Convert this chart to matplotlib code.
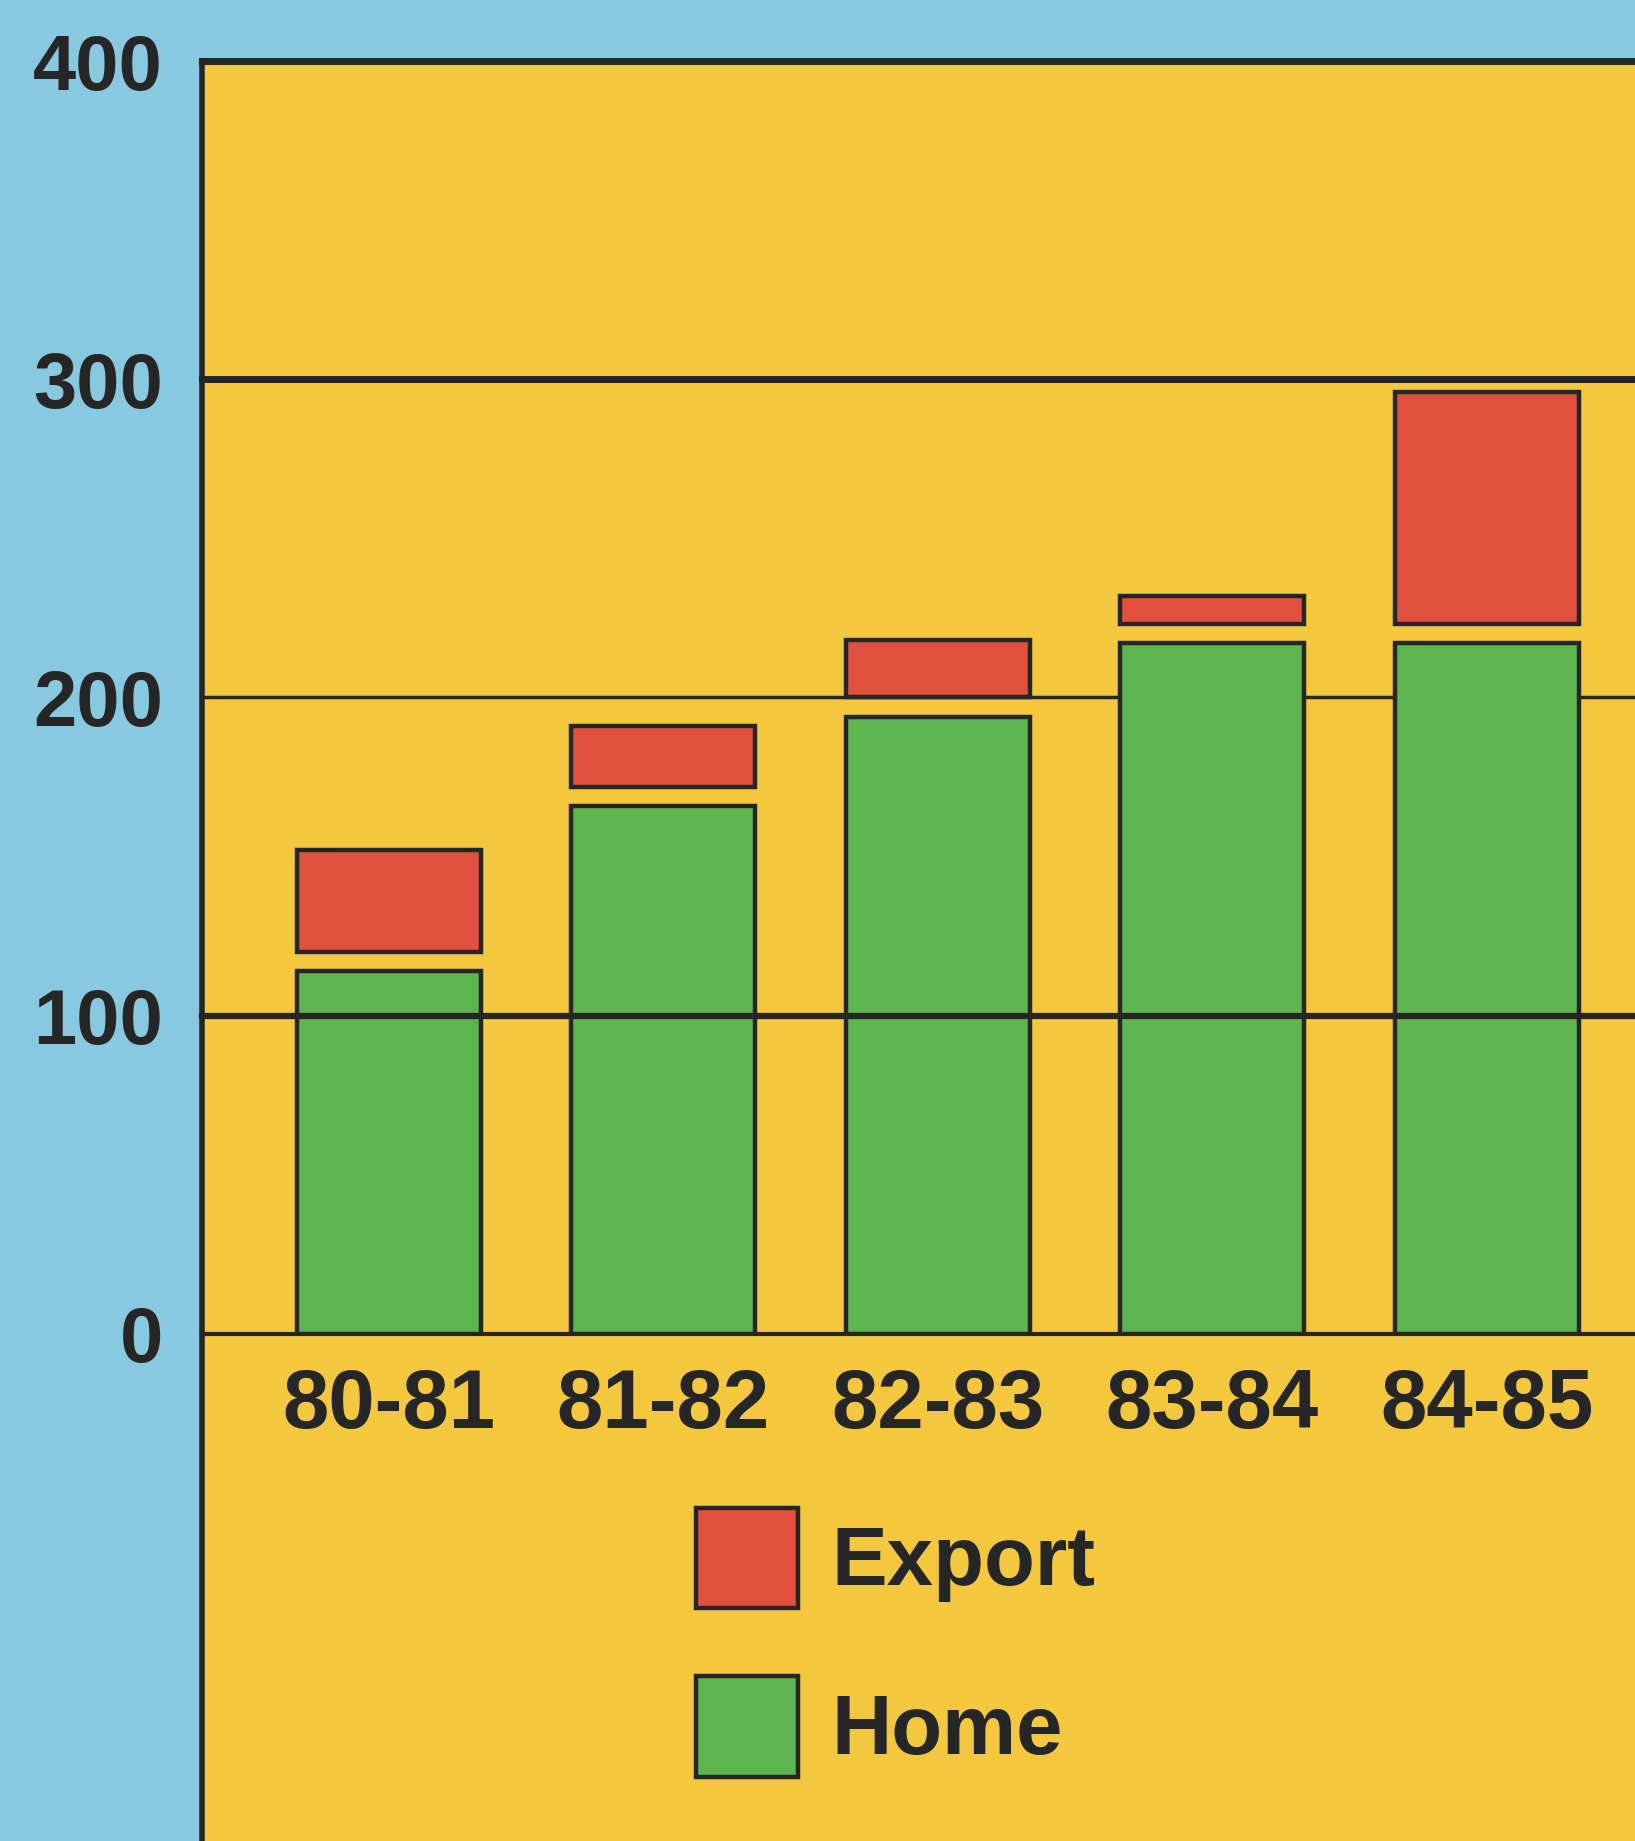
import matplotlib
matplotlib.use("Agg")
import matplotlib.pyplot as plt
from matplotlib.patches import Rectangle
from matplotlib.lines import Line2D

# data
years = ["80-81", "81-82", "82-83", "83-84", "84-85"]
home = [114, 166, 194, 217, 217]
export = [32, 19, 18, 9, 73]
y_ticks = [0, 100, 200, 300, 400]

# colours
blue = "#88c9e0"
yellow = "#f4c83e"
red = "#e2513f"
green = "#5eb44e"
ink = "#262626"

plt.rcParams["font.family"] = ["Liberation Sans", "DejaVu Sans"]
plt.rcParams["font.weight"] = "bold"

fig = plt.figure(figsize=(16.35, 18.41), dpi=100, facecolor=blue)

# yellow panel behind the chart and legend
x0 = 172 / 1393
y_top = 1 - 52 / 1568
y_bot = 1 - 1136 / 1568
fig.patches.append(Rectangle((x0, 0), 1 - x0, y_top, transform=fig.transFigure,
                             facecolor=yellow, edgecolor="none", zorder=0))
fig.lines.append(Line2D([x0, x0], [0, y_top], transform=fig.transFigure,
                        color=ink, lw=4, zorder=5))

ax = fig.add_axes([x0, y_bot, 1 - x0, y_top - y_bot])
ax.set_zorder(2)
ax.patch.set_alpha(0)
for s in ax.spines.values():
    s.set_visible(False)

gap = 6
pos = list(range(len(years)))
b_home = ax.bar(pos, home, width=0.67, color=green, edgecolor=ink, lw=3.2,
                zorder=3, label="Home")
b_exp = ax.bar(pos, export, width=0.67, bottom=[h + gap for h in home],
               color=red, edgecolor=ink, lw=3.2, zorder=3, label="Export")

# horizontal rules
widths = {0: 3, 100: 4.5, 200: 2.5, 300: 5, 400: 5}
for v in y_ticks:
    ax.axhline(v, color=ink, lw=widths[v], clip_on=False,
               zorder=4 if v == 100 else 2)

ax.set_xlim(-0.68, 4.54)
ax.set_ylim(0, 400)
ax.set_yticks(y_ticks)
ax.set_xticks(pos)
ax.set_xticklabels(years)
ax.tick_params(axis="y", length=0, pad=28, labelsize=56, labelcolor=ink)
ax.tick_params(axis="x", length=0, pad=24, labelsize=60, labelcolor=ink)

leg = ax.legend(handles=[b_exp, b_home], loc="upper left",
                bbox_to_anchor=(593 / 1393, 1 - 1284 / 1568),
                bbox_transform=fig.transFigure, frameon=False, fontsize=60,
                handlelength=1.22, handleheight=1.48, handletextpad=0.4,
                labelspacing=0.82, borderpad=0, borderaxespad=0)
for t in leg.get_texts():
    t.set_color(ink)

fig.savefig("out.png", dpi=100, facecolor=blue)
